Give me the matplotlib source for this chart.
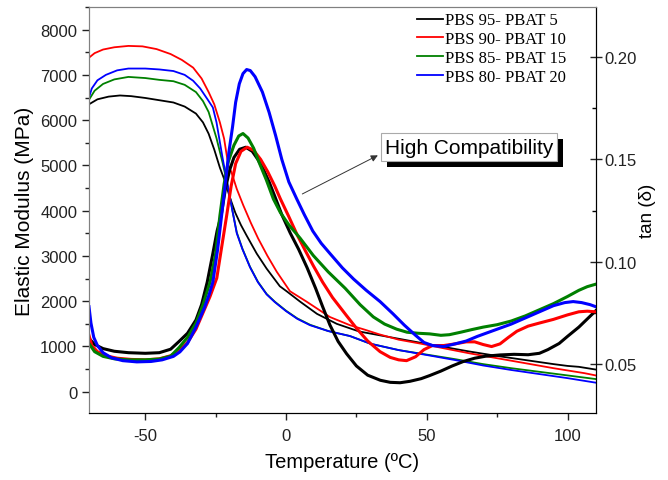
import matplotlib
matplotlib.use("Agg")
import matplotlib.pyplot as plt
from matplotlib.ticker import MultipleLocator
import matplotlib.patheffects as pe

plt.rcParams['font.family'] = ['Liberation Sans', 'DejaVu Sans']
plt.rcParams['axes.unicode_minus'] = False

labels = ["PBS 95- PBAT 5", "PBS 90- PBAT 10", "PBS 85- PBAT 15", "PBS 80- PBAT 20"]
colors = ["black", "#ff0000", "#008000", "#0000ff"]

# elastic modulus (MPa) vs temperature (C)
t_mod_95 = [-70, -67, -63, -59, -55, -50, -45, -40, -36, -32, -29.5, -27.5, -25.5, -23.5, -21.5,
            -20, -18, -16, -14, -10.4, -6.9, -2.2, 0.2, 5, 11, 18, 26, 33, 40, 47, 55, 65, 75,
            85, 95, 100, 104, 107, 110]
mod_95 = [6350, 6460, 6520, 6545, 6530, 6490, 6440, 6390, 6300, 6145, 5950, 5700, 5350, 4950, 4620,
          4300, 3950, 3680, 3450, 3050, 2720, 2330, 2220, 1990, 1720, 1500, 1330, 1250, 1170,
          1090, 1000, 890, 790, 700, 610, 570, 550, 520, 490]

t_mod_90 = [-70, -68, -65, -61, -56, -51, -46, -41, -37, -33, -30, -27.5, -25.5, -23.5, -22, -20.5,
            -19.4, -17.5, -15.2, -12.5, -9.9, -6.6, -3.3, 1.4, 7.3, 15.6, 22.7, 28, 33, 40, 48, 56, 65,
            75, 85, 95, 102, 106, 110]
mod_90 = [7380, 7480, 7560, 7610, 7640, 7630, 7570, 7460, 7330, 7160, 6920, 6620, 6350, 5950, 5590,
          5000, 4850, 4480, 4120, 3730, 3385, 3000, 2650, 2220, 1990, 1650, 1470, 1370, 1270, 1150,
          1060, 960, 850, 740, 630, 520, 450, 410, 360]

t_mod_85 = [-70, -68, -65, -61, -56, -50, -45, -40, -36, -32, -29.5, -27.5, -24.7, -22.5, -20.5,
            -19, -17.5, -15.5, -12.8, -10, -6.9, -4, 0, 4, 8.5, 15, 22.7, 30, 40, 51, 60, 70, 80, 90,
            100, 105, 110]
mod_85 = [6450, 6650, 6800, 6900, 6955, 6930, 6890, 6860, 6780, 6620, 6420, 6180, 5600, 5050, 4490,
          3990, 3520, 3160, 2760, 2430, 2160, 1990, 1790, 1620, 1480, 1340, 1230, 1060, 920, 810,
          720, 610, 520, 440, 360, 320, 280]

t_mod_80 = [-70, -69, -67, -64, -60, -56, -50, -45, -40, -36, -33, -30.5, -28, -26, -24.7, -22.5,
            -20.5, -19, -17.5, -15.5, -12.8, -10, -6.9, -4, 0, 4, 8.5, 15, 22.7, 30, 40, 51, 60, 70,
            80, 90, 100, 105, 110]
mod_80 = [6500, 6700, 6880, 7000, 7100, 7140, 7140, 7120, 7085, 7000, 6870, 6700, 6470, 6280, 5950,
          5150, 4490, 3980, 3500, 3150, 2750, 2420, 2150, 1980, 1780, 1610, 1470, 1340, 1230, 1060,
          920, 800, 700, 580, 480, 390, 300, 250, 200]

# tan(delta) vs temperature (C)
t_tan_95 = [-70, -68, -65, -61, -56, -50, -45, -41, -38, -35, -32, -30, -28, -26, -24.5, -23, -21.5,
            -20, -18.5, -16.5, -14.3, -12, -10, -8, -6, -4, -1.5, 1.5, 4.5, 7.5, 10.5, 13, 15.6, 18.5,
            21.5, 25, 29, 33.5, 37, 40.5, 44, 48, 51, 55, 59, 63, 67, 71, 76, 81, 86, 90, 93, 97, 100,
            104, 107, 110]
tan_95 = [0.0625, 0.0595, 0.0575, 0.0562, 0.0555, 0.0552, 0.0555, 0.0572, 0.0610, 0.0650, 0.0715,
          0.0790, 0.0900, 0.1040, 0.1150, 0.1230, 0.1360, 0.1450, 0.1510, 0.1550, 0.1560, 0.1540,
          0.1500, 0.1450, 0.1390, 0.1320, 0.1230, 0.1140, 0.1060, 0.0970, 0.0870, 0.0780, 0.0690,
          0.0610, 0.0550, 0.0490, 0.0445, 0.0420, 0.0410, 0.0408, 0.0415, 0.0428, 0.0443, 0.0465,
          0.0490, 0.0512, 0.0528, 0.0538, 0.0544, 0.0547, 0.0545, 0.0552, 0.0570, 0.0600, 0.0635,
          0.0680, 0.0720, 0.0760]

t_tan_90 = [-70, -69, -67, -64, -60, -55, -50, -45, -41, -38, -35, -32, -29.5, -27, -24.6, -23, -21.1,
            -19.5, -17.9, -16, -13.8, -11.5, -9, -6.5, -4, -2, 1, 4, 7, 9.7, 13, 16.5, 21.5, 25, 29,
            33.4, 37, 40, 42.8, 46, 49, 52, 56, 60, 64, 67, 70, 73, 76, 79, 82, 86, 90, 95, 100, 104,
            107, 110]
tan_90 = [0.0640, 0.0590, 0.0560, 0.0540, 0.0528, 0.0522, 0.0520, 0.0525, 0.0540, 0.0565, 0.0605,
          0.0670, 0.0750, 0.0830, 0.0920, 0.1060, 0.1225, 0.1370, 0.1480, 0.1540, 0.1560, 0.1545,
          0.1500, 0.1440, 0.1370, 0.1307, 0.1220, 0.1130, 0.1050, 0.0980, 0.0900, 0.0825, 0.0736,
          0.0675, 0.0612, 0.0560, 0.0532, 0.0520, 0.0516, 0.0535, 0.0570, 0.0590, 0.0590, 0.0598,
          0.0608, 0.0608, 0.0595, 0.0585, 0.0598, 0.0630, 0.0660, 0.0685, 0.0700, 0.0718, 0.0740,
          0.0755, 0.0758, 0.0755]

t_tan_85 = [-70, -68, -65, -61, -56, -50, -45, -41, -38, -35, -32, -29.5, -27, -25, -23.5, -22, -20.5,
            -18.5, -16.8, -15.3, -13.5, -11.5, -9.6, -7, -4.5, -2, 1, 5, 9.7, 15, 21, 26.3, 31, 35,
            39.3, 43, 47, 51, 55, 58, 62, 66, 70, 75, 80, 85, 90, 95, 100, 104, 107, 110]
tan_85 = [0.0600, 0.0560, 0.0537, 0.0525, 0.0520, 0.0520, 0.0524, 0.0538, 0.0580, 0.0630, 0.0700,
          0.0790, 0.0900, 0.1040, 0.1225, 0.1380, 0.1490, 0.1570, 0.1615, 0.1627, 0.1605, 0.1555,
          0.1487, 0.1400, 0.1307, 0.1240, 0.1180, 0.1115, 0.1030, 0.0950, 0.0870, 0.0790, 0.0730,
          0.0695, 0.0670, 0.0655, 0.0650, 0.0647, 0.0640, 0.0643, 0.0655, 0.0668, 0.0680, 0.0692,
          0.0710, 0.0735, 0.0765, 0.0795, 0.0830, 0.0860, 0.0878, 0.0890]

t_tan_80 = [-70, -69.3, -68.3, -67, -65, -62, -58, -53, -48, -44, -40, -37.7, -35, -32, -29, -27.3, -26,
            -24.3, -22.9, -21.5, -20.3, -19, -17.9, -16.6, -15.3, -14, -12.7, -11, -8.4, -6, -3.7,
            -1.5, 1, 3.8, 6.5, 9.5, 12.5, 15.6, 20, 24, 28.5, 33.4, 38, 42, 46, 49, 52, 56, 60, 64,
            68, 72, 76, 80, 85, 90, 95, 99, 102, 105, 108, 110]
tan_80 = [0.0780, 0.0700, 0.0630, 0.0590, 0.0555, 0.0530, 0.0516, 0.0510, 0.0512, 0.0520, 0.0537,
          0.0559, 0.0600, 0.0680, 0.0775, 0.0840, 0.0900, 0.1060, 0.1225, 0.1390, 0.1536, 0.1660,
          0.1780, 0.1870, 0.1920, 0.1940, 0.1935, 0.1905, 0.1830, 0.1730, 0.1617, 0.1500, 0.1390,
          0.1307, 0.1230, 0.1150, 0.1090, 0.1040, 0.0970, 0.0915, 0.0860, 0.0805, 0.0745, 0.0690,
          0.0640, 0.0605, 0.0590, 0.0585, 0.0598, 0.0612, 0.0635, 0.0655, 0.0675, 0.0695, 0.0725,
          0.0755, 0.0785, 0.0800, 0.0805, 0.0800, 0.0790, 0.0780]

mod_series = [(t_mod_95, mod_95), (t_mod_90, mod_90), (t_mod_85, mod_85), (t_mod_80, mod_80)]
tan_series = [(t_tan_95, tan_95), (t_tan_90, tan_90), (t_tan_85, tan_85), (t_tan_80, tan_80)]

fig = plt.figure(figsize=(6.68, 4.81), dpi=100)
ax = fig.add_axes([0.1332, 0.1393, 0.7586, 0.8441])
ax2 = ax.twinx()

handles = []
for (t, m), c, lab in zip(mod_series, colors, labels):
    h, = ax.plot(t, m, color=c, lw=1.3, label=lab)
    handles.append(h)
for (t, v), c in zip(tan_series, colors):
    ax2.plot(t, v, color=c, lw=2.2)

ax.set_xlim(-70, 110)
ax.set_ylim(-470, 8500)
ax2.set_ylim(0.026, 0.2246)

ax.xaxis.set_major_locator(MultipleLocator(50))
ax.xaxis.set_minor_locator(MultipleLocator(25))
ax.yaxis.set_major_locator(MultipleLocator(1000))
ax.yaxis.set_minor_locator(MultipleLocator(500))
ax2.yaxis.set_major_locator(MultipleLocator(0.05))
ax2.yaxis.set_minor_locator(MultipleLocator(0.025))
ax.set_yticks(range(0, 8001, 1000))

ax.tick_params(axis='both', which='major', labelsize=12, length=5, width=1, colors='#222222')
ax.tick_params(axis='x', which='major', pad=6)
ax.tick_params(axis='both', which='minor', length=3, width=1, color='#222222')
ax2.tick_params(axis='y', which='major', labelsize=12, length=8, direction='inout', width=1,
                colors='#222222', pad=2)
ax2.tick_params(axis='y', which='minor', length=3, direction='in', width=1)

ax.set_xlabel("Temperature (ºC)", fontsize=14.5, labelpad=6)
ax.set_ylabel("Elastic Modulus (MPa)", fontsize=15, labelpad=4)
ax2.set_ylabel("tan (δ)", fontsize=13.5, labelpad=2)

for a in (ax, ax2):
    a.spines['left'].set_color('#808080')
    a.spines['top'].set_color('#808080')
    a.spines['right'].set_color('black')
    a.spines['bottom'].set_color('black')

ax2.legend(handles=handles, loc='upper left', bbox_to_anchor=(0.64, 0.995), frameon=False,
           prop={'family': 'Liberation Serif', 'size': 12}, handlelength=1.6,
           handletextpad=0.1, labelspacing=0.17, borderaxespad=0, borderpad=0.2)

ax2.annotate("", xy=(33.5, 5250), xytext=(4.9, 4341), xycoords=ax.transData, textcoords=ax.transData,
             arrowprops=dict(arrowstyle='-|>', lw=0.7, color='#333333', mutation_scale=10))
txt = ax2.text(65, 5405, "High Compatibility", ha='center', va='center', fontsize=15,
               transform=ax.transData,
               bbox=dict(boxstyle='square,pad=0.2', facecolor='white', edgecolor='#aaaaaa', lw=0.8))
txt.get_bbox_patch().set_path_effects([
    pe.withSimplePatchShadow(offset=(4.3, -4.3), shadow_rgbFace='black', alpha=1.0)])

fig.savefig("out.png", dpi=100)
